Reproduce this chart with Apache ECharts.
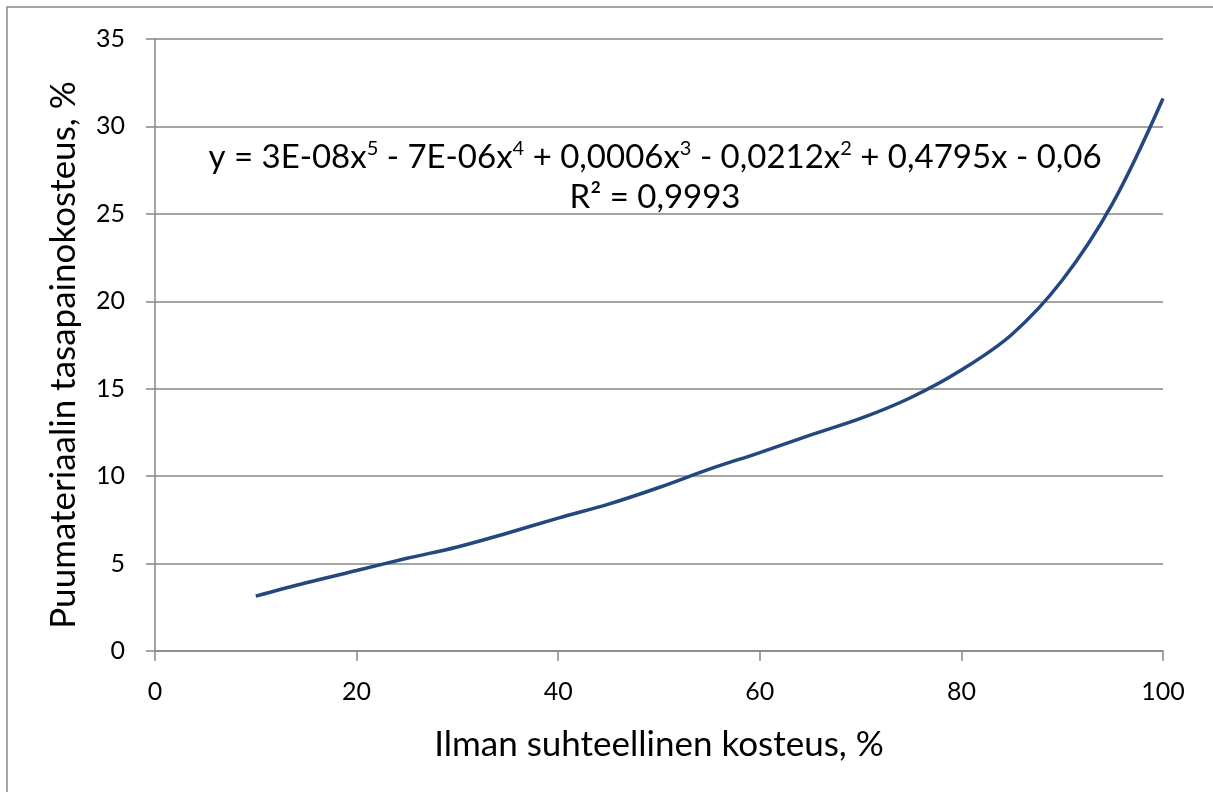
<!DOCTYPE html>
<html><head><meta charset="utf-8">
<script src="https://cdn.jsdelivr.net/npm/echarts@6/dist/echarts.min.js"></script>
<style>html,body{margin:0;padding:0;background:#fff}#c{width:1213px;height:792px}</style>
</head><body><div id="c"></div>
<script>
const rhValues = [10, 15, 20, 25, 30, 35, 40, 45, 50, 55, 60, 65, 70, 75, 80, 85, 90, 95, 100];
const emcValues = [3.14, 3.9, 4.6, 5.3, 5.95, 6.75, 7.6, 8.4, 9.35, 10.4, 11.35, 12.35, 13.3, 14.5, 16.07, 18.1, 21.2, 25.6, 31.6];
const xTitle = 'Ilman suhteellinen kosteus, %';
const yTitle = 'Puumateriaalin tasapainokosteus, %';
const eqLine1 = '{n|y = 3E-08x}{s|5}{n| - 7E-06x}{s|4}{n| + 0,0006x}{s|3}{n| - 0,0212x}{s|2}{n| + 0,4795x - 0,06}';
const eqLine2 = 'R² = 0,9993';

const FONT = 'Lato';
const chart = echarts.init(document.getElementById('c'), null, {renderer: 'canvas'});
chart.setOption({
  backgroundColor: '#fff',
  animation: false,
  textStyle: {fontFamily: FONT},
  grid: {left: 155, right: 50, top: 39, bottom: 141},
  xAxis: {
    type: 'value', min: 0, max: 100, interval: 20,
    name: xTitle, nameLocation: 'middle', nameGap: 76,
    nameTextStyle: {fontSize: 35, color: '#000', fontFamily: FONT},
    axisLine: {show: true, lineStyle: {color: '#868686', width: 1.5}},
    axisTick: {show: true, length: 10, lineStyle: {color: '#868686', width: 1.5}},
    axisLabel: {fontSize: 25, color: '#000', margin: 28, fontFamily: FONT},
    splitLine: {show: false}
  },
  yAxis: {
    type: 'value', min: 0, max: 35, interval: 5,
    name: yTitle, nameLocation: 'middle', nameGap: 74,
    nameTextStyle: {fontSize: 35, color: '#000', fontFamily: FONT, padding: [0, 20, 0, 0]},
    axisLine: {show: true, lineStyle: {color: '#868686', width: 1.5}},
    axisTick: {show: true, length: 9, lineStyle: {color: '#868686', width: 1.5}},
    axisLabel: {fontSize: 25, color: '#000', margin: 30, fontFamily: FONT},
    splitLine: {show: true, lineStyle: {color: '#868686', width: 1.5}}
  },
  series: [{
    type: 'line',
    data: rhValues.map((x, i) => [x, emcValues[i]]),
    smooth: 0.35,
    showSymbol: false,
    lineStyle: {color: '#24477F', width: 3.5},
    z: 3
  }],
  graphic: [
    {type: 'rect', shape: {x: 7, y: 7, width: 1230, height: 810}, style: {fill: 'none', stroke: '#888', lineWidth: 1.5}, z: -1},
    {type: 'text', x: 655, y: 157, style: {text: eqLine1, align: 'center', verticalAlign: 'middle',
      rich: {n: {fontSize: 33, fontFamily: FONT, fill: '#000'}, s: {fontSize: 20, fontFamily: FONT, fill: '#000', verticalAlign: 'top', padding: [0,0,16,0]}}}},
    {type: 'text', x: 655, y: 197, style: {text: eqLine2, align: 'center', verticalAlign: 'middle', fontSize: 33, fontFamily: FONT, fill: '#000'}}
  ]
});
</script></body></html>
